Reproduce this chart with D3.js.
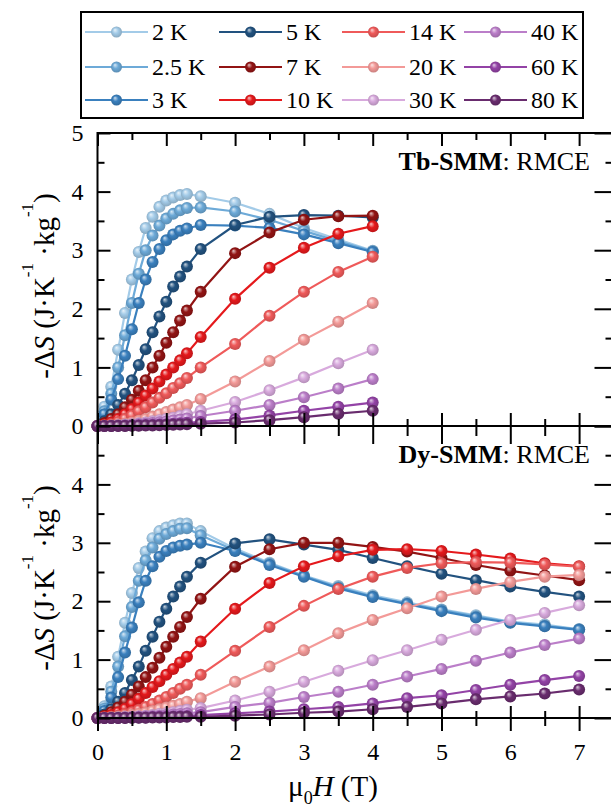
<!DOCTYPE html>
<html>
<head>
<meta charset="utf-8">
<script src="https://cdn.jsdelivr.net/npm/d3@7"></script>
<style>
  body { margin: 0; background: #fff; }
  text { font-family: "Liberation Serif", "Times New Roman", serif; fill: #000; }
</style>
</head>
<body>
<svg id="chart" width="611" height="810"></svg>
<script>
// temperatures and colours, in legend order
const temps = ["2 K", "2.5 K", "3 K", "5 K", "7 K", "10 K", "14 K", "20 K", "30 K", "40 K", "60 K", "80 K"]
const colors = ["#a3cbe8", "#6daad8", "#3a80be", "#22527f", "#921414", "#e5191c", "#ef5a5a", "#f39a98", "#d8aadd", "#bb7ec9", "#9343a6", "#692c6e"]

// field values (T)
const fieldsTb = [0, 0.1, 0.2, 0.3, 0.4, 0.5, 0.6, 0.7, 0.8, 0.9, 1.0, 1.1, 1.2, 1.3, 1.5, 2, 2.5, 3, 3.5, 4]
const fieldsDy = [0, 0.1, 0.2, 0.3, 0.4, 0.5, 0.6, 0.7, 0.8, 0.9, 1.0, 1.1, 1.2, 1.3, 1.5, 2, 2.5, 3, 3.5, 4, 4.5, 5, 5.5, 6, 6.5, 7]

// -dS values, Tb-SMM (one row per temperature)
const tbValues = [
  [0, 0.33, 0.67, 1.3, 1.93, 2.5, 2.97, 3.38, 3.57, 3.74, 3.85, 3.9, 3.94, 3.96, 3.92, 3.81, 3.62, 3.38, 3.18, 2.99],
  [0, 0.25, 0.55, 1.0, 1.55, 2.1, 2.6, 3.0, 3.25, 3.42, 3.54, 3.62, 3.68, 3.72, 3.73, 3.66, 3.52, 3.33, 3.15, 2.98],
  [0, 0.2, 0.45, 0.8, 1.2, 1.65, 2.1, 2.5, 2.8, 3.02, 3.17, 3.27, 3.33, 3.37, 3.43, 3.42, 3.38, 3.27, 3.12, 2.97],
  [0, 0.08, 0.2, 0.36, 0.55, 0.78, 1.04, 1.31, 1.6, 1.87, 2.12, 2.38, 2.55, 2.72, 3.02, 3.43, 3.57, 3.6, 3.59, 3.56],
  [0, 0.05, 0.12, 0.2, 0.32, 0.45, 0.6, 0.78, 1.0, 1.2, 1.42, 1.6, 1.8, 1.97, 2.29, 2.95, 3.3, 3.52, 3.58, 3.59],
  [0, 0.02, 0.06, 0.12, 0.2, 0.29, 0.4, 0.52, 0.64, 0.76, 0.88, 1.0, 1.12, 1.24, 1.52, 2.17, 2.7, 3.04, 3.28, 3.41],
  [0, 0.01, 0.03, 0.07, 0.12, 0.18, 0.25, 0.32, 0.4, 0.48, 0.56, 0.65, 0.73, 0.82, 1.0, 1.4, 1.88, 2.29, 2.63, 2.89],
  [0, 0.005, 0.01, 0.025, 0.04, 0.06, 0.09, 0.12, 0.16, 0.2, 0.24, 0.28, 0.32, 0.36, 0.46, 0.76, 1.11, 1.47, 1.78, 2.1],
  [0, 0, 0.005, 0.01, 0.02, 0.03, 0.045, 0.06, 0.08, 0.1, 0.12, 0.14, 0.17, 0.2, 0.26, 0.41, 0.61, 0.83, 1.07, 1.3],
  [0, 0, 0.003, 0.007, 0.012, 0.02, 0.028, 0.038, 0.05, 0.064, 0.078, 0.094, 0.11, 0.13, 0.17, 0.26, 0.36, 0.49, 0.64, 0.8],
  [0, 0, 0, 0.003, 0.005, 0.008, 0.012, 0.016, 0.02, 0.025, 0.03, 0.038, 0.045, 0.055, 0.07, 0.11, 0.18, 0.26, 0.33, 0.4],
  [0, 0, 0, 0, 0.002, 0.004, 0.006, 0.008, 0.01, 0.013, 0.016, 0.02, 0.025, 0.03, 0.04, 0.06, 0.1, 0.15, 0.21, 0.26]
]

// -dS values, Dy-SMM
const dyValues = [
  [0, 0.2, 0.54, 1.05, 1.63, 2.14, 2.57, 2.85, 3.08, 3.2, 3.26, 3.3, 3.33, 3.33, 3.2, 2.9, 2.66, 2.44, 2.26, 2.1, 1.98, 1.86, 1.76, 1.65, 1.6, 1.52],
  [0, 0.16, 0.45, 0.88, 1.4, 1.9, 2.35, 2.7, 2.92, 3.07, 3.15, 3.2, 3.24, 3.25, 3.13, 2.87, 2.64, 2.43, 2.24, 2.08, 1.96, 1.85, 1.74, 1.64, 1.58, 1.52],
  [0, 0.12, 0.35, 0.7, 1.12, 1.55, 1.98, 2.35, 2.6, 2.76, 2.86, 2.92, 2.95, 2.97, 3.0, 2.86, 2.62, 2.42, 2.22, 2.07, 1.95, 1.83, 1.72, 1.63, 1.57, 1.51],
  [0, 0.06, 0.15, 0.28, 0.43, 0.65, 0.88, 1.15, 1.39, 1.65, 1.87, 2.08, 2.25, 2.42, 2.66, 2.99, 3.06, 2.97, 2.88, 2.74, 2.6, 2.47, 2.36, 2.25, 2.16, 2.08],
  [0, 0.04, 0.1, 0.18, 0.28, 0.4, 0.54, 0.7, 0.86, 1.03, 1.22, 1.39, 1.56, 1.73, 2.04, 2.59, 2.89, 3.0, 3.0, 2.93, 2.85, 2.74, 2.62, 2.52, 2.44, 2.36],
  [0, 0.02, 0.05, 0.1, 0.16, 0.24, 0.33, 0.43, 0.53, 0.63, 0.74, 0.84, 0.95, 1.05, 1.31, 1.87, 2.31, 2.6, 2.77, 2.88, 2.89, 2.86, 2.8, 2.73, 2.65, 2.6],
  [0, 0.01, 0.02, 0.04, 0.07, 0.1, 0.14, 0.19, 0.24, 0.3, 0.36, 0.43, 0.5, 0.57, 0.74, 1.15, 1.56, 1.92, 2.21, 2.42, 2.57, 2.65, 2.67, 2.66, 2.63, 2.59],
  [0, 0.005, 0.01, 0.02, 0.03, 0.05, 0.07, 0.09, 0.12, 0.15, 0.18, 0.21, 0.24, 0.28, 0.34, 0.62, 0.88, 1.16, 1.45, 1.68, 1.88, 2.08, 2.21, 2.33, 2.42, 2.45],
  [0, 0, 0.005, 0.01, 0.015, 0.02, 0.03, 0.04, 0.05, 0.07, 0.08, 0.1, 0.12, 0.14, 0.17, 0.3, 0.45, 0.62, 0.81, 0.99, 1.16, 1.34, 1.51, 1.68, 1.8, 1.93],
  [0, 0, 0, 0.005, 0.01, 0.015, 0.02, 0.025, 0.03, 0.04, 0.05, 0.06, 0.07, 0.08, 0.1, 0.19, 0.26, 0.36, 0.45, 0.57, 0.71, 0.84, 0.98, 1.12, 1.25, 1.36],
  [0, 0, 0, 0, 0.005, 0.005, 0.01, 0.01, 0.015, 0.02, 0.02, 0.025, 0.03, 0.035, 0.05, 0.08, 0.11, 0.15, 0.19, 0.25, 0.34, 0.39, 0.48, 0.57, 0.65, 0.72],
  [0, 0, 0, 0, 0, 0.005, 0.005, 0.005, 0.01, 0.01, 0.01, 0.015, 0.015, 0.02, 0.02, 0.04, 0.06, 0.09, 0.11, 0.15, 0.19, 0.25, 0.32, 0.37, 0.42, 0.49]
]

const xMajor = [0, 1, 2, 3, 4, 5, 6, 7]
const xMinor = [0.5, 1.5, 2.5, 3.5, 4.5, 5.5, 6.5]
const yMajor = [0, 1, 2, 3, 4, 5]
const yMinor = [0.5, 1.5, 2.5, 3.5, 4.5]

const svg = d3.select("#chart")
const left = 97.5, right = 613.5

const x = d3.scaleLinear().domain([0, 7.5]).range([left, right])
const yTop = d3.scaleLinear().domain([0, 5]).range([426, 133])
const yBot = d3.scaleLinear().domain([0, 5]).range([718, 426])

// shaded ball gradients
const defs = svg.append("defs")
colors.forEach((c, i) => {
  let g = defs.append("radialGradient").attr("id", "ball" + i)
    .attr("cx", "50%").attr("cy", "50%").attr("r", "55%")
    .attr("fx", "35%").attr("fy", "30%")
  g.append("stop").attr("offset", "0%").attr("stop-color", d3.interpolateRgb(c, "#fff")(0.75))
  g.append("stop").attr("offset", "45%").attr("stop-color", c)
  g.append("stop").attr("offset", "100%").attr("stop-color", d3.color(c).darker(0.6))
})

function styleAxis(g, keepText) {
  g.select(".domain").remove()
  g.selectAll("line").attr("stroke", "#000").attr("stroke-width", 2)
  if (!keepText) g.selectAll("text").remove()
  g.selectAll("text").style("font-size", "24px").attr("font-family", null)
}

function drawPanel(y, fields, values, labels, name, titleY) {
  // series
  values.forEach((vals, i) => {
    let pts = fields.map((f, j) => [f, vals[j]])
    let line = d3.line().x(d => x(d[0])).y(d => y(d[1]))
    svg.append("path").datum(pts)
      .attr("d", line)
      .attr("fill", "none")
      .attr("stroke", colors[i])
      .attr("stroke-width", 2.2)
    svg.append("g").selectAll("circle").data(pts).join("circle")
      .attr("cx", d => x(d[0]))
      .attr("cy", d => y(d[1]))
      .attr("r", 6)
      .attr("fill", "url(#ball" + i + ")")
  })

  // left axis
  svg.append("g").attr("transform", `translate(${left},0)`)
    .call(d3.axisLeft(y).tickValues(labels).tickSize(-13).tickPadding(14).tickFormat(d3.format("d")))
    .call(g => styleAxis(g, true))
  svg.append("g").attr("transform", `translate(${left},0)`)
    .call(d3.axisLeft(y).tickValues(yMinor).tickSize(-7))
    .call(g => styleAxis(g, false))
  // right axis
  svg.append("g").attr("transform", `translate(${right},0)`)
    .call(d3.axisRight(y).tickValues(yMajor).tickSize(-19))
    .call(g => styleAxis(g, false))
  svg.append("g").attr("transform", `translate(${right},0)`)
    .call(d3.axisRight(y).tickValues(yMinor).tickSize(-8))
    .call(g => styleAxis(g, false))

  // frame
  svg.append("rect")
    .attr("x", left).attr("y", y(5))
    .attr("width", right - left).attr("height", y(0) - y(5))
    .attr("fill", "none").attr("stroke", "#000").attr("stroke-width", 2)

  // y title
  let t = svg.append("text")
    .attr("transform", `translate(54,${titleY}) rotate(-90)`)
    .attr("text-anchor", "middle")
    .style("font-size", "29px")
  t.append("tspan").text("-Δ")
  t.append("tspan").style("font-style", "italic").text("S")
  t.append("tspan").text(" (J·K")
  t.append("tspan").attr("dy", -21).style("font-size", "17px").text("-1")
  t.append("tspan").attr("dy", 21).text(" ·kg")
  t.append("tspan").attr("dy", -21).style("font-size", "17px").text("-1")
  t.append("tspan").attr("dy", 21).text(")")

  // annotation
  let a = svg.append("text")
    .attr("x", 590).attr("y", y(5) + 37)
    .attr("text-anchor", "end")
    .style("font-size", "26px")
  a.append("tspan").style("font-weight", "bold").text(name)
  a.append("tspan").text(": RMCE")
}

drawPanel(yTop, fieldsTb, tbValues, yMajor, "Tb-SMM", 286)
drawPanel(yBot, fieldsDy, dyValues, [0, 1, 2, 3, 4], "Dy-SMM", 578)

// top ticks of upper panel
svg.append("g").attr("transform", `translate(0,${yTop(5)})`)
  .call(d3.axisTop(x).tickValues(xMajor).tickSize(-13))
  .call(g => styleAxis(g, false))
svg.append("g").attr("transform", `translate(0,${yTop(5)})`)
  .call(d3.axisTop(x).tickValues(xMinor).tickSize(-7))
  .call(g => styleAxis(g, false))

// shared boundary ticks (both directions)
svg.append("g").attr("transform", `translate(0,${yTop(0)})`)
  .call(d3.axisBottom(x).tickValues(xMajor).tickSize(18))
  .call(g => styleAxis(g, false))
svg.append("g").attr("transform", `translate(0,${yTop(0)})`)
  .call(d3.axisBottom(x).tickValues(xMajor).tickSize(-13))
  .call(g => styleAxis(g, false))
svg.append("g").attr("transform", `translate(0,${yTop(0)})`)
  .call(d3.axisBottom(x).tickValues(xMinor).tickSize(10))
  .call(g => styleAxis(g, false))
svg.append("g").attr("transform", `translate(0,${yTop(0)})`)
  .call(d3.axisBottom(x).tickValues(xMinor).tickSize(-7))
  .call(g => styleAxis(g, false))

// bottom axis with labels
svg.append("g").attr("transform", `translate(0,${yBot(0)})`)
  .call(d3.axisBottom(x).tickValues(xMajor).tickSize(13).tickPadding(12).tickFormat(d3.format("d")))
  .call(g => styleAxis(g, true))
svg.append("g").attr("transform", `translate(0,${yBot(0)})`)
  .call(d3.axisBottom(x).tickValues(xMajor).tickSize(-12))
  .call(g => styleAxis(g, false))
svg.append("g").attr("transform", `translate(0,${yBot(0)})`)
  .call(d3.axisBottom(x).tickValues(xMinor).tickSize(8))
  .call(g => styleAxis(g, false))
svg.append("g").attr("transform", `translate(0,${yBot(0)})`)
  .call(d3.axisBottom(x).tickValues(xMinor).tickSize(-7))
  .call(g => styleAxis(g, false))

// x title
let xt = svg.append("text")
  .attr("x", 333).attr("y", 796)
  .attr("text-anchor", "middle")
  .style("font-size", "29px")
xt.append("tspan").text("μ")
xt.append("tspan").attr("dy", 8).style("font-size", "18px").text("0")
xt.append("tspan").attr("dy", -8).style("font-style", "italic").text("H")
xt.append("tspan").text(" (T)")

// legend
const legend = svg.append("g")
legend.append("rect")
  .attr("x", 81).attr("y", 12).attr("width", 502).attr("height", 106)
  .attr("fill", "#fff").attr("stroke", "#000").attr("stroke-width", 2)
const colX = [85, 219, 342, 464]
const rowY = [32, 67, 100]
temps.forEach((t, i) => {
  let cx = colX[Math.floor(i / 3)], cy = rowY[i % 3]
  let item = legend.append("g")
  item.append("line")
    .attr("x1", cx).attr("x2", cx + 63).attr("y1", cy).attr("y2", cy)
    .attr("stroke", colors[i]).attr("stroke-width", 2.2)
  item.append("circle")
    .attr("cx", cx + 31.5).attr("cy", cy).attr("r", 5.5)
    .attr("fill", "url(#ball" + i + ")")
  item.append("text")
    .attr("x", cx + 67).attr("y", cy)
    .attr("dy", "0.35em")
    .style("font-size", "24px")
    .text(t)
})
</script>
</body>
</html>
